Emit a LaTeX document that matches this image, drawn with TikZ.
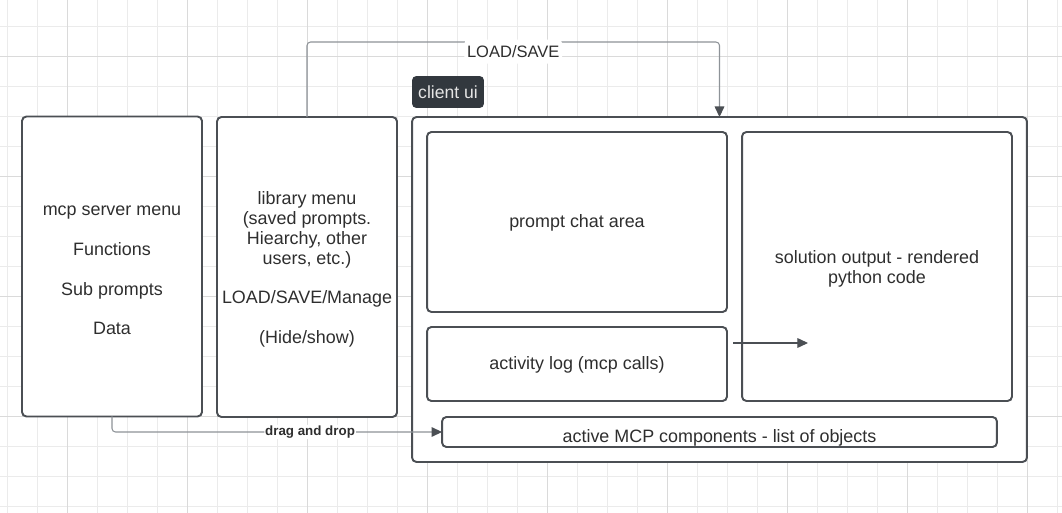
\documentclass[tikz,border=0pt]{standalone}
\usepackage{fontspec}
\setmainfont{Liberation Sans}
\usetikzlibrary{arrows.meta}
\definecolor{boxline}{HTML}{4B4F54}
\definecolor{txt}{HTML}{2E2E2E}
\definecolor{gridminor}{HTML}{EBEBEB}
\definecolor{gridmajor}{HTML}{DADADA}
\definecolor{tagbg}{HTML}{32383E}
\definecolor{connc}{HTML}{8E9398}
\newcommand{\topstrut}{\rule{0pt}{10pt}}
\tikzset{
  panel/.style={draw=boxline,line width=1.1pt,rounded corners=2.5pt,fill=white,inner sep=0pt,outer sep=0pt,align=center,text=txt,font=\fontsize{10.2}{11.3}\selectfont},
  oneline/.style={text height=8.4pt,text depth=2.1pt},
  conn/.style={draw=connc,line width=0.6pt,rounded corners=2pt,-{Triangle[length=6pt,width=5.5pt,color=boxline]}},
  lbl/.style={fill=white,text=txt,inner sep=1.5pt}
}
\begin{document}
\begin{tikzpicture}[x=0.02cm,y=-0.02cm]
\useasboundingbox (0,0) rectangle (1062,513);
\fill[white] (0,0) rectangle (1062,513);
\foreach \gx in {7,37,...,1057} \draw[gridminor,line width=0.55pt] (\gx,0) -- (\gx,513);
\foreach \gy in {26,56,...,506} \draw[gridminor,line width=0.55pt] (0,\gy) -- (1062,\gy);
\foreach \gx in {67,187,...,1027} \draw[gridmajor,line width=0.55pt] (\gx,0) -- (\gx,513);
\foreach \gy in {56,176,...,416} \draw[gridmajor,line width=0.55pt] (0,\gy) -- (1062,\gy);

\node[panel,minimum width=3.6cm,minimum height=6cm] (mcp) at (112,266.5) {\topstrut mcp server menu\\[11.3pt]Functions\\[11.3pt]Sub prompts\\[11.3pt]Data};
\node[panel,minimum width=3.6cm,minimum height=6cm] (lib) at (307,267) {\topstrut library menu\\(saved prompts.\\Hiearchy, other\\users, etc.)\\[11.3pt]LOAD/SAVE/Manage\\[11.3pt](Hide/show)};
\node[panel,minimum width=12.3cm,minimum height=6.9cm] (ui) at (719.5,289.5) {};
\node[fill=tagbg,rounded corners=2.5pt,minimum width=1.44cm,minimum height=0.64cm,inner sep=0pt,text=white!90!black,font=\fontsize{10}{11}\selectfont] (uitag) at (448,92) {client ui};
\node[panel,oneline,minimum width=6cm,minimum height=3.6cm] (chat) at (577,222) {prompt chat area};
\node[panel,oneline,minimum width=6cm,minimum height=1.48cm] (log) at (577,364) {activity log (mcp calls)};
\node[panel,minimum width=5.4cm,minimum height=5.38cm] (out) at (877,266.5) {\topstrut solution output - rendered\\python code};
\node[panel,text height=12pt,text depth=0pt,minimum width=11.1cm,minimum height=0.6cm] (active) at (719.5,432) {active MCP components - list of objects};

\draw[conn] (lib.north) -- ++(0,-75) -| (ui.north)
  node[lbl,pos=0.25,yshift=-5.5pt,minimum height=0.48cm,font=\fontsize{9.4}{11}\selectfont] (loadlbl) {LOAD/SAVE};
\draw[conn] (mcp.south) |- (active.west)
  node[lbl,pos=0.8,inner sep=0.5pt,font=\bfseries\fontsize{7.6}{9}\selectfont] (draglbl) {drag and drop};
\coordinate (logtip) at (733,343);
\coordinate (outtip) at (808,343);
\draw[conn,draw=boxline] (logtip) -- (outtip);
\end{tikzpicture}
\end{document}
